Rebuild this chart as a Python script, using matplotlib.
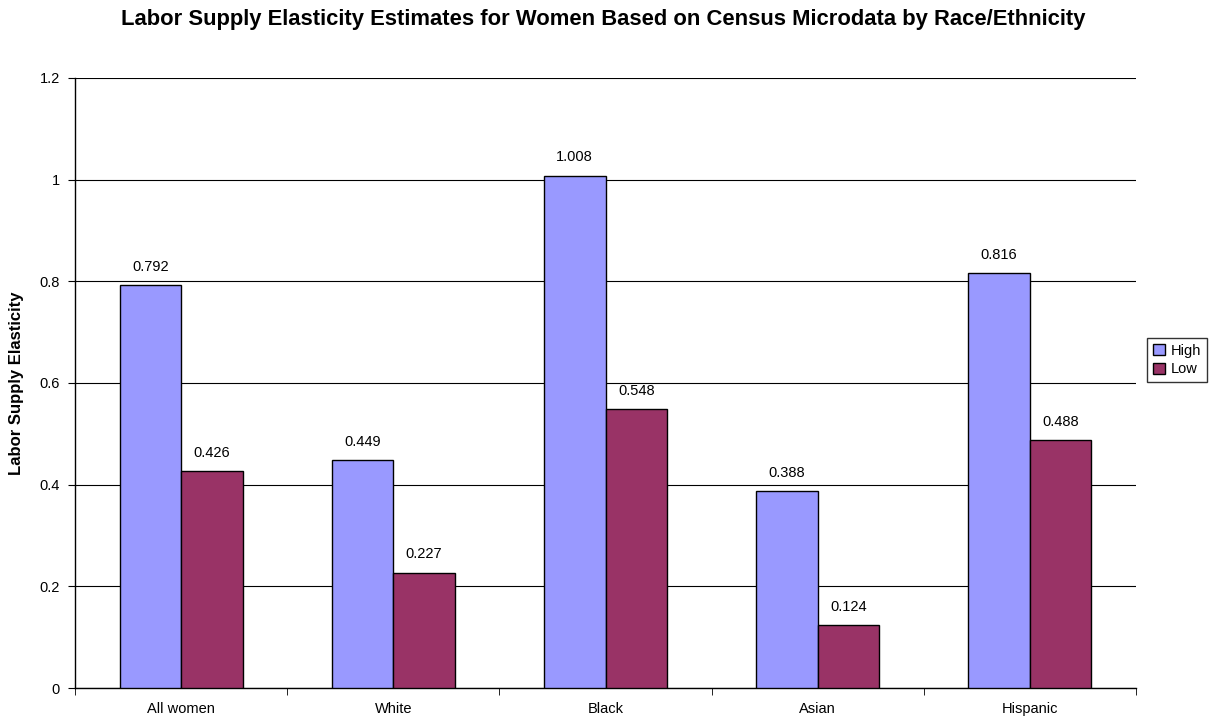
import numpy as np
import matplotlib.pyplot as plt

categories = ["All women", "White", "Black", "Asian", "Hispanic"]
high = [0.792, 0.449, 1.008, 0.388, 0.816]
low = [0.426, 0.227, 0.548, 0.124, 0.488]

plt.rcParams['font.family'] = ['Liberation Sans', 'DejaVu Sans']

fig = plt.figure(figsize=(12.17, 7.23), dpi=100)
ax = fig.add_axes([75 / 1217, 1 - 688 / 723, (1136 - 75) / 1217, (688 - 78) / 723])

x = np.arange(len(categories))
w = 0.29
b1 = ax.bar(x - w / 2, high, w, color="#9999FF", edgecolor="black", linewidth=1, label="High", zorder=3)
b2 = ax.bar(x + w / 2, low, w, color="#993366", edgecolor="black", linewidth=1, label="Low", zorder=3)

for bars, vals in ((b1, high), (b2, low)):
    for rect, v in zip(bars, vals):
        ax.text(rect.get_x() + rect.get_width() / 2, v + 0.022, f"{v:g}",
                ha="center", va="bottom", fontsize=10.5)

ax.set_xlim(-0.5, len(categories) - 0.5)
ax.set_ylim(0, 1.2)
ax.set_yticks(np.arange(0, 1.21, 0.2))
ax.set_yticklabels(["0", "0.2", "0.4", "0.6", "0.8", "1", "1.2"], fontsize=10.5)
ax.yaxis.grid(True, color="black", linewidth=0.8, zorder=0)

# category labels sit between boundary ticks
ax.set_xticks(x)
ax.set_xticklabels(categories, fontsize=10.5)
ax.tick_params(axis="x", length=0, pad=10)
ax.set_xticks(np.arange(-0.5, len(categories) + 0.5, 1), minor=True)
ax.tick_params(axis="x", which="minor", length=5, direction="out")
ax.tick_params(axis="y", length=5, direction="out", pad=6)

for s in ("top", "right"):
    ax.spines[s].set_visible(False)
for s in ("left", "bottom"):
    ax.spines[s].set_linewidth(1)

ax.set_ylabel("Labor Supply Elasticity", fontsize=12, fontweight="bold", labelpad=11)
fig.text(603 / 1217, 1 - 19 / 723, "Labor Supply Elasticity Estimates for Women Based on Census Microdata by Race/Ethnicity",
         ha="center", va="center", fontsize=15.8, fontweight="bold")

leg = ax.legend(loc="center left", bbox_to_anchor=(1140 / 1217, 1 - 360 / 723), bbox_transform=fig.transFigure,
                frameon=True, fancybox=False, edgecolor="black", fontsize=10.5,
                handlelength=0.8, handleheight=0.8, handletextpad=0.4, borderpad=0.4, labelspacing=0.3)
leg.get_frame().set_linewidth(1)

fig.savefig("out.png", dpi=100)
